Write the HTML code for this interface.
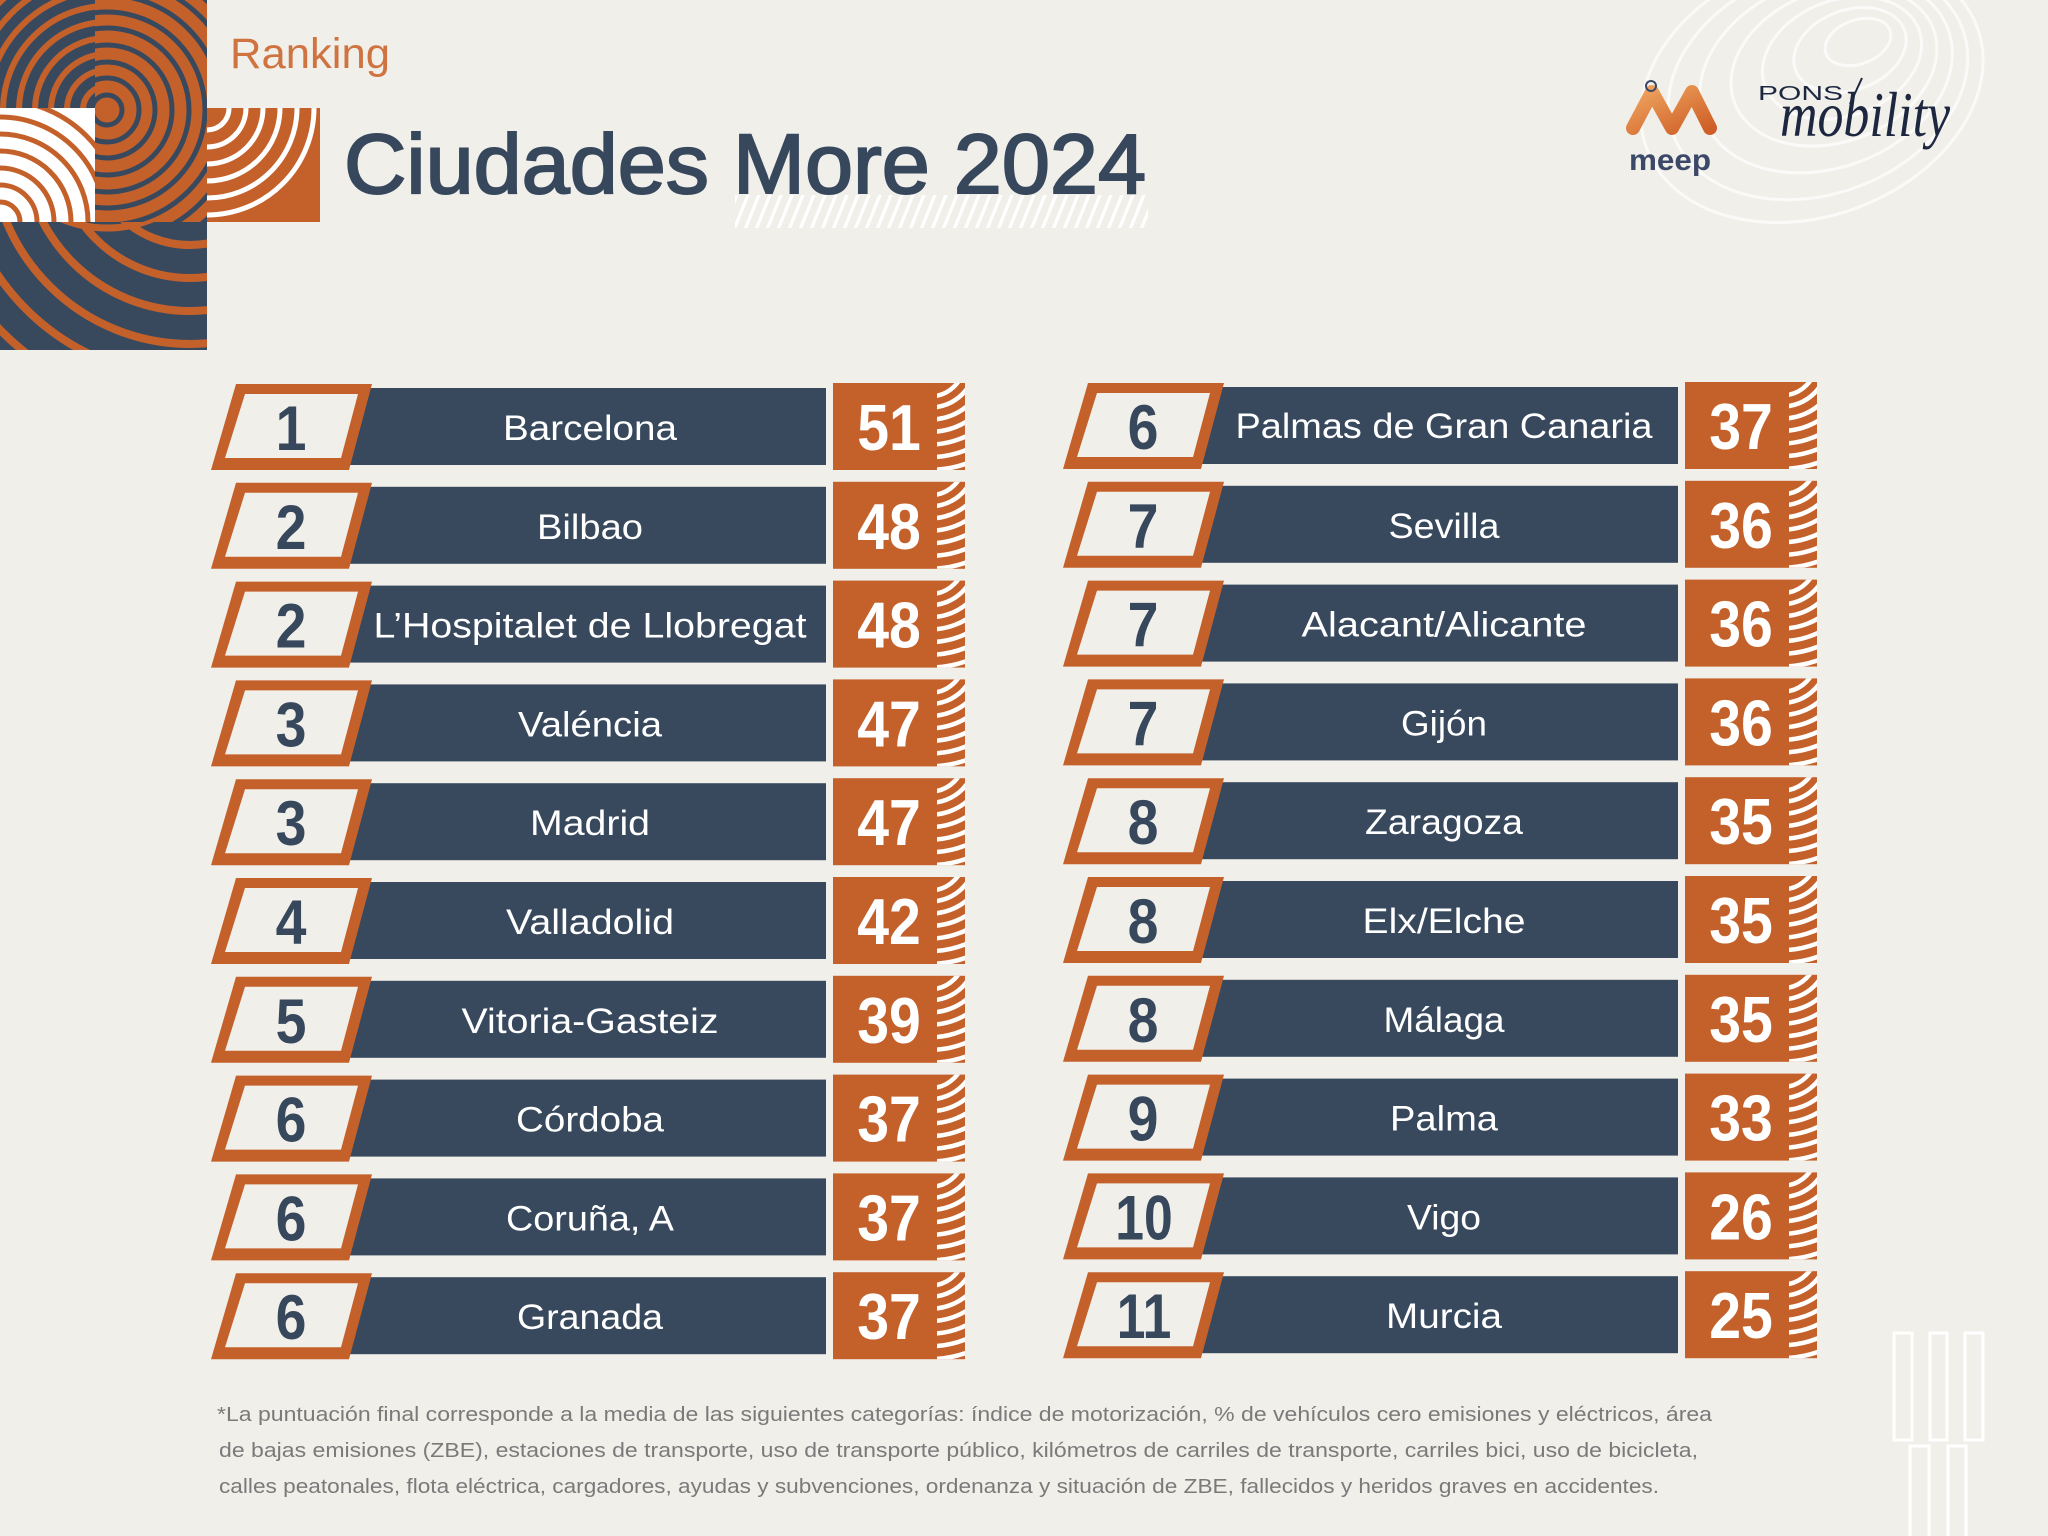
<!DOCTYPE html>
<html><head><meta charset="utf-8">
<style>
html,body{margin:0;padding:0;background:#f1efea;}
svg{display:block}
.rk{font-family:"Liberation Sans",sans-serif;font-weight:bold;font-size:63px;fill:#37475c;text-anchor:middle}
.nm{font-family:"Liberation Sans",sans-serif;font-size:35px;fill:#ffffff;text-anchor:middle}
.sc{font-family:"Liberation Sans",sans-serif;font-weight:bold;font-size:65px;fill:#ffffff;text-anchor:middle}
.fn{font-family:"Liberation Sans",sans-serif;font-size:20px;fill:#7a7a7a}
</style></head>
<body>
<svg width="2048" height="1536" viewBox="0 0 2048 1536" xmlns="http://www.w3.org/2000/svg">
<defs>
  <clipPath id="cS"><rect x="937" y="-1" width="28" height="87"/></clipPath>
  <clipPath id="cA"><rect x="0" y="0" width="95" height="108"/></clipPath>
  <clipPath id="cB"><rect x="95" y="0" width="112" height="222"/></clipPath>
  <clipPath id="cC"><rect x="0" y="108" width="95" height="114"/></clipPath>
  <clipPath id="cD"><rect x="207" y="108" width="113" height="114"/></clipPath>
  <clipPath id="cE"><rect x="0" y="222" width="207" height="128"/></clipPath>
  <pattern id="hatch" width="11" height="60" patternUnits="userSpaceOnUse" patternTransform="skewX(-22)">
    <rect x="0" y="0" width="3.5" height="60" fill="#ffffff"/>
  </pattern>
  <linearGradient id="mg" x1="0" y1="0" x2="1" y2="1">
    <stop offset="0" stop-color="#eea45e"/>
    <stop offset="1" stop-color="#cf5f28"/>
  </linearGradient>
  <g id="rb">
    <rect x="340" y="4" width="486" height="77" fill="#38495e"/>
    <polygon points="236,0 372,0 349,86 211,86" fill="#c4612b"/>
    <polygon points="245,10 358,10 341,74 225,74" fill="#f1efea"/>
    <rect x="833" y="-1" width="132" height="87" fill="#c4612b"/>
    <g clip-path="url(#cS)" fill="none" stroke="#ffffff" stroke-width="4.5">
      <circle cx="930" cy="-22" r="34.4"/>
      <circle cx="930" cy="-22" r="45.6"/>
      <circle cx="930" cy="-22" r="57.6"/>
      <circle cx="930" cy="-22" r="69.9"/>
      <circle cx="930" cy="-22" r="82.5"/>
      <circle cx="930" cy="-22" r="95.1"/>
      <circle cx="930" cy="-22" r="107.9"/>
    </g>
  </g>
</defs>

<rect width="2048" height="1536" fill="#f1efea"/>

<!-- topographic lines top-right -->
<g fill="none" stroke="#ffffff" stroke-width="3" opacity="0.7">
  <ellipse cx="1858" cy="42" rx="34" ry="22" transform="rotate(-20 1858 42)"/>
  <ellipse cx="1850" cy="50" rx="58" ry="40" transform="rotate(-20 1850 50)"/>
  <ellipse cx="1842" cy="58" rx="82" ry="58" transform="rotate(-20 1842 58)"/>
  <ellipse cx="1834" cy="66" rx="106" ry="76" transform="rotate(-20 1834 66)"/>
  <ellipse cx="1826" cy="74" rx="130" ry="94" transform="rotate(-20 1826 74)"/>
  <ellipse cx="1818" cy="82" rx="154" ry="112" transform="rotate(-20 1818 82)"/>
  <ellipse cx="1812" cy="88" rx="176" ry="128" transform="rotate(-20 1812 88)"/>
</g>

<!-- left decoration -->
<g clip-path="url(#cA)">
  <rect x="0" y="0" width="95" height="108" fill="#38495e"/>
  <g fill="none" stroke="#c4612b" stroke-width="6">
    <circle cx="107" cy="110" r="24"/><circle cx="107" cy="110" r="40"/><circle cx="107" cy="110" r="56"/>
    <circle cx="107" cy="110" r="72"/><circle cx="107" cy="110" r="88"/><circle cx="107" cy="110" r="104"/>
    <circle cx="107" cy="110" r="120"/><circle cx="107" cy="110" r="136"/><circle cx="107" cy="110" r="152"/>
  </g>
</g>
<g clip-path="url(#cB)">
  <rect x="95" y="0" width="112" height="222" fill="#c4612b"/>
  <g fill="none" stroke="#38495e" stroke-width="5">
    <circle cx="107" cy="110" r="15"/><circle cx="107" cy="110" r="32"/><circle cx="107" cy="110" r="48"/>
    <circle cx="107" cy="110" r="65"/><circle cx="107" cy="110" r="82"/><circle cx="107" cy="110" r="98"/>
    <circle cx="107" cy="110" r="115"/><circle cx="107" cy="110" r="132"/><circle cx="107" cy="110" r="148"/>
  </g>
</g>
<g clip-path="url(#cC)">
  <rect x="0" y="108" width="95" height="114" fill="#ffffff"/>
  <g fill="none" stroke="#c4612b" stroke-width="5">
    <circle cx="0" cy="222" r="20"/><circle cx="0" cy="222" r="37"/><circle cx="0" cy="222" r="54"/>
    <circle cx="0" cy="222" r="71"/><circle cx="0" cy="222" r="88"/><circle cx="0" cy="222" r="105"/>
    <circle cx="0" cy="222" r="122"/>
  </g>
</g>
<g clip-path="url(#cD)">
  <rect x="207" y="108" width="113" height="114" fill="#c4612b"/>
  <g fill="none" stroke="#ffffff" stroke-width="5">
    <circle cx="207" cy="108" r="22"/><circle cx="207" cy="108" r="39"/><circle cx="207" cy="108" r="56"/>
    <circle cx="207" cy="108" r="73"/><circle cx="207" cy="108" r="90"/><circle cx="207" cy="108" r="107"/>
  </g>
</g>
<g clip-path="url(#cE)">
  <rect x="0" y="222" width="207" height="128" fill="#38495e"/>
  <g fill="none" stroke="#c4612b" stroke-width="8">
    <circle cx="190" cy="145" r="100"/><circle cx="190" cy="145" r="133"/><circle cx="190" cy="145" r="166"/>
    <circle cx="190" cy="145" r="199"/><circle cx="190" cy="145" r="232"/><circle cx="190" cy="145" r="265"/>
  </g>
  <circle cx="107" cy="110" r="118" fill="none" stroke="#c4612b" stroke-width="7"/>
</g>

<!-- titles -->
<text x="230" y="68" font-family="Liberation Sans, sans-serif" font-size="43" fill="#cf7440" textLength="160" lengthAdjust="spacingAndGlyphs">Ranking</text>
<rect x="735" y="195" width="413" height="33" fill="url(#hatch)"/>
<text x="344" y="193" font-family="Liberation Sans, sans-serif" font-size="84" fill="#37475c" stroke="#37475c" stroke-width="2" textLength="802" lengthAdjust="spacingAndGlyphs">Ciudades More 2024</text>

<!-- meep logo -->
<polyline points="1633,128 1652,92 1672,128 1692,92 1710,128" fill="none" stroke="url(#mg)" stroke-width="14" stroke-linecap="round" stroke-linejoin="round"/>
<circle cx="1651" cy="86" r="5" fill="none" stroke="#3b4868" stroke-width="2"/>
<text x="1629" y="170" font-family="Liberation Sans, sans-serif" font-weight="bold" font-size="30" fill="#3b4868" textLength="82" lengthAdjust="spacingAndGlyphs">meep</text>

<!-- pons mobility -->
<text x="1758" y="100" font-family="Liberation Sans, sans-serif" font-size="20" fill="#1d2840" textLength="85" lengthAdjust="spacingAndGlyphs">PONS</text>
<line x1="1850" y1="104" x2="1862" y2="78" stroke="#1d2840" stroke-width="2"/>
<text x="1780" y="136" font-family="Liberation Serif, serif" font-style="italic" font-size="64" fill="#1d2840" textLength="170" lengthAdjust="spacingAndGlyphs">mobility</text>

<!-- left column rows -->
<g transform="translate(0,384)"><use href="#rb"/>
<text class="rk" transform="translate(291,66) scale(0.88,1)">1</text>
<text class="nm" x="590" y="56" textLength="174" lengthAdjust="spacingAndGlyphs">Barcelona</text>
<text class="sc" transform="translate(889,66) scale(0.88,1)">51</text></g>

<g transform="translate(0,482.8)"><use href="#rb"/>
<text class="rk" transform="translate(291,66) scale(0.88,1)">2</text>
<text class="nm" x="590" y="56" textLength="106" lengthAdjust="spacingAndGlyphs">Bilbao</text>
<text class="sc" transform="translate(889,66) scale(0.88,1)">48</text></g>

<g transform="translate(0,581.6)"><use href="#rb"/>
<text class="rk" transform="translate(291,66) scale(0.88,1)">2</text>
<text class="nm" x="590" y="56" textLength="433" lengthAdjust="spacingAndGlyphs">L’Hospitalet de Llobregat</text>
<text class="sc" transform="translate(889,66) scale(0.88,1)">48</text></g>

<g transform="translate(0,680.4)"><use href="#rb"/>
<text class="rk" transform="translate(291,66) scale(0.88,1)">3</text>
<text class="nm" x="590" y="56" textLength="144" lengthAdjust="spacingAndGlyphs">Valéncia</text>
<text class="sc" transform="translate(889,66) scale(0.88,1)">47</text></g>

<g transform="translate(0,779.2)"><use href="#rb"/>
<text class="rk" transform="translate(291,66) scale(0.88,1)">3</text>
<text class="nm" x="590" y="56" textLength="120" lengthAdjust="spacingAndGlyphs">Madrid</text>
<text class="sc" transform="translate(889,66) scale(0.88,1)">47</text></g>

<g transform="translate(0,878)"><use href="#rb"/>
<text class="rk" transform="translate(291,66) scale(0.88,1)">4</text>
<text class="nm" x="590" y="56" textLength="168" lengthAdjust="spacingAndGlyphs">Valladolid</text>
<text class="sc" transform="translate(889,66) scale(0.88,1)">42</text></g>

<g transform="translate(0,976.8)"><use href="#rb"/>
<text class="rk" transform="translate(291,66) scale(0.88,1)">5</text>
<text class="nm" x="590" y="56" textLength="257" lengthAdjust="spacingAndGlyphs">Vitoria-Gasteiz</text>
<text class="sc" transform="translate(889,66) scale(0.88,1)">39</text></g>

<g transform="translate(0,1075.6)"><use href="#rb"/>
<text class="rk" transform="translate(291,66) scale(0.88,1)">6</text>
<text class="nm" x="590" y="56" textLength="148" lengthAdjust="spacingAndGlyphs">Córdoba</text>
<text class="sc" transform="translate(889,66) scale(0.88,1)">37</text></g>

<g transform="translate(0,1174.4)"><use href="#rb"/>
<text class="rk" transform="translate(291,66) scale(0.88,1)">6</text>
<text class="nm" x="590" y="56" textLength="168" lengthAdjust="spacingAndGlyphs">Coruña, A</text>
<text class="sc" transform="translate(889,66) scale(0.88,1)">37</text></g>

<g transform="translate(0,1273.2)"><use href="#rb"/>
<text class="rk" transform="translate(291,66) scale(0.88,1)">6</text>
<text class="nm" x="590" y="56" textLength="146" lengthAdjust="spacingAndGlyphs">Granada</text>
<text class="sc" transform="translate(889,66) scale(0.88,1)">37</text></g>

<!-- right column rows -->
<g transform="translate(852,383)"><use href="#rb"/>
<text class="rk" transform="translate(291,66) scale(0.88,1)">6</text>
<text class="nm" x="592" y="55" textLength="417" lengthAdjust="spacingAndGlyphs">Palmas de Gran Canaria</text>
<text class="sc" transform="translate(889,66) scale(0.88,1)">37</text></g>

<g transform="translate(852,481.8)"><use href="#rb"/>
<text class="rk" transform="translate(291,66) scale(0.88,1)">7</text>
<text class="nm" x="592" y="56" textLength="111" lengthAdjust="spacingAndGlyphs">Sevilla</text>
<text class="sc" transform="translate(889,66) scale(0.88,1)">36</text></g>

<g transform="translate(852,580.6)"><use href="#rb"/>
<text class="rk" transform="translate(291,66) scale(0.88,1)">7</text>
<text class="nm" x="592" y="56" textLength="285" lengthAdjust="spacingAndGlyphs">Alacant/Alicante</text>
<text class="sc" transform="translate(889,66) scale(0.88,1)">36</text></g>

<g transform="translate(852,679.4)"><use href="#rb"/>
<text class="rk" transform="translate(291,66) scale(0.88,1)">7</text>
<text class="nm" x="592" y="56" textLength="86" lengthAdjust="spacingAndGlyphs">Gijón</text>
<text class="sc" transform="translate(889,66) scale(0.88,1)">36</text></g>

<g transform="translate(852,778.2)"><use href="#rb"/>
<text class="rk" transform="translate(291,66) scale(0.88,1)">8</text>
<text class="nm" x="592" y="56" textLength="158" lengthAdjust="spacingAndGlyphs">Zaragoza</text>
<text class="sc" transform="translate(889,66) scale(0.88,1)">35</text></g>

<g transform="translate(852,877)"><use href="#rb"/>
<text class="rk" transform="translate(291,66) scale(0.88,1)">8</text>
<text class="nm" x="592" y="56" textLength="163" lengthAdjust="spacingAndGlyphs">Elx/Elche</text>
<text class="sc" transform="translate(889,66) scale(0.88,1)">35</text></g>

<g transform="translate(852,975.8)"><use href="#rb"/>
<text class="rk" transform="translate(291,66) scale(0.88,1)">8</text>
<text class="nm" x="592" y="56" textLength="121" lengthAdjust="spacingAndGlyphs">Málaga</text>
<text class="sc" transform="translate(889,66) scale(0.88,1)">35</text></g>

<g transform="translate(852,1074.6)"><use href="#rb"/>
<text class="rk" transform="translate(291,66) scale(0.88,1)">9</text>
<text class="nm" x="592" y="56" textLength="108" lengthAdjust="spacingAndGlyphs">Palma</text>
<text class="sc" transform="translate(889,66) scale(0.88,1)">33</text></g>

<g transform="translate(852,1173.4)"><use href="#rb"/>
<text class="rk" transform="translate(292,66) scale(0.82,1)">10</text>
<text class="nm" x="592" y="56" textLength="74" lengthAdjust="spacingAndGlyphs">Vigo</text>
<text class="sc" transform="translate(889,66) scale(0.88,1)">26</text></g>

<g transform="translate(852,1272.2)"><use href="#rb"/>
<text class="rk" transform="translate(292,66) scale(0.82,1)">11</text>
<text class="nm" x="592" y="56" textLength="116" lengthAdjust="spacingAndGlyphs">Murcia</text>
<text class="sc" transform="translate(889,66) scale(0.88,1)">25</text></g>

<!-- footnote -->
<text class="fn" x="217" y="1421" textLength="1495" lengthAdjust="spacingAndGlyphs">*La puntuación final corresponde a la media de las siguientes categorías: índice de motorización, % de vehículos cero emisiones y eléctricos, área</text>
<text class="fn" x="219" y="1457" textLength="1479" lengthAdjust="spacingAndGlyphs">de bajas emisiones (ZBE), estaciones de transporte, uso de transporte público, kilómetros de carriles de transporte, carriles bici, uso de bicicleta,</text>
<text class="fn" x="219" y="1493" textLength="1440" lengthAdjust="spacingAndGlyphs">calles peatonales, flota eléctrica, cargadores, ayudas y subvenciones, ordenanza y situación de ZBE, fallecidos y heridos graves en accidentes.</text>

<!-- bottom-right deco -->
<g fill="none" stroke="#ffffff" stroke-width="3">
  <rect x="1894" y="1333" width="18" height="107"/>
  <rect x="1930" y="1333" width="17" height="107"/>
  <rect x="1965" y="1333" width="18" height="107"/>
  <rect x="1910" y="1446" width="19" height="95"/>
  <rect x="1948" y="1446" width="18" height="95"/>
</g>
</svg>
</body></html>
